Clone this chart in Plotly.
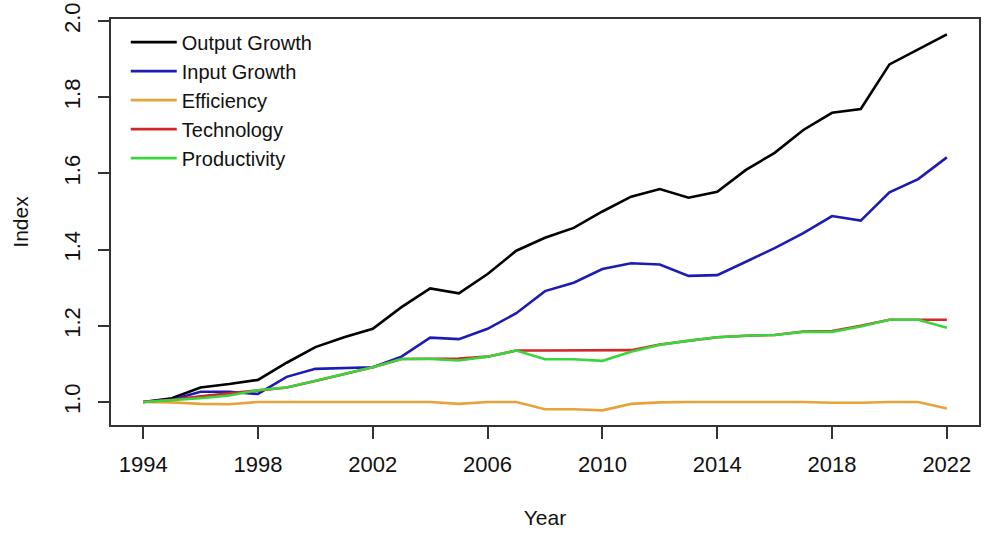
import plotly.graph_objects as go

years = list(range(1994, 2023))

output_growth = [1.000, 1.010, 1.038, 1.047, 1.058, 1.103, 1.144, 1.170, 1.192, 1.249,
                 1.298, 1.285, 1.336, 1.397, 1.431, 1.457, 1.500, 1.539, 1.559, 1.536,
                 1.552, 1.609, 1.654, 1.714, 1.759, 1.769, 1.886, 1.926, 1.965]
input_growth = [1.000, 1.006, 1.027, 1.027, 1.021, 1.066, 1.087, 1.089, 1.091, 1.119,
                1.169, 1.165, 1.192, 1.233, 1.291, 1.313, 1.349, 1.364, 1.361, 1.331,
                1.333, 1.368, 1.404, 1.443, 1.488, 1.476, 1.550, 1.585, 1.642]
efficiency = [1.000, 0.999, 0.995, 0.994, 1.000, 1.000, 1.000, 1.000, 1.000, 1.000,
              1.000, 0.995, 1.000, 1.000, 0.981, 0.981, 0.978, 0.995, 0.999, 1.000,
              1.000, 1.000, 1.000, 1.000, 0.998, 0.998, 1.000, 1.000, 0.983]
technology = [1.000, 1.006, 1.015, 1.023, 1.031, 1.038, 1.055, 1.073, 1.091, 1.113,
              1.113, 1.114, 1.119, 1.135, 1.135, 1.135, 1.135, 1.136, 1.151, 1.161,
              1.170, 1.174, 1.176, 1.185, 1.186, 1.200, 1.216, 1.216, 1.216]
productivity = [1.000, 1.005, 1.010, 1.017, 1.031, 1.038, 1.055, 1.073, 1.091, 1.113,
                1.113, 1.109, 1.119, 1.135, 1.112, 1.112, 1.108, 1.132, 1.150, 1.161,
                1.170, 1.174, 1.176, 1.184, 1.184, 1.198, 1.216, 1.216, 1.195]

x_ticks = [1994, 1998, 2002, 2006, 2010, 2014, 2018, 2022]
y_ticks = [1.0, 1.2, 1.4, 1.6, 1.8, 2.0]
y_tick_text = ["1.0", "1.2", "1.4", "1.6", "1.8", "2.0"]

series = [
    ("Output Growth", output_growth, "#000000"),
    ("Input Growth", input_growth, "#1c1cb4"),
    ("Efficiency", efficiency, "#E8A23A"),
    ("Technology", technology, "#D02828"),
    ("Productivity", productivity, "#3CD43C"),
]

fig = go.Figure()
for name, vals, col in series:
    fig.add_trace(go.Scatter(x=years, y=vals, mode="lines", name=name,
                             line=dict(color=col, width=2.6)))

font = "Liberation Sans, Arial, sans-serif"
fig.update_layout(
    width=1000, height=538,
    margin=dict(l=111, r=21, t=19, b=113),
    paper_bgcolor="white", plot_bgcolor="white",
    font=dict(family=font, size=21, color="#111111"),
    showlegend=True,
    legend=dict(x=0.017, y=0.991, xanchor="left", yanchor="top",
                bgcolor="rgba(0,0,0,0)", borderwidth=0,
                font=dict(size=20), itemwidth=46, tracegroupgap=0),
)
fig.update_xaxes(
    range=[1992.88, 2023.12], tickmode="array", tickvals=x_ticks,
    showgrid=False, zeroline=False, automargin=False,
    showline=True, linecolor="#333333", linewidth=1.5, mirror=True,
    ticks="outside", ticklen=12, tickwidth=1.5, tickcolor="#333333",
    ticklabelstandoff=7, tickfont=dict(size=22), ticklabeloverflow="allow",
    title=dict(text="Year", standoff=34, font=dict(size=21)),
)
fig.update_yaxes(
    range=[0.9396, 2.0052], tickmode="array", tickvals=y_ticks, ticktext=y_tick_text,
    tickangle=-90,
    showgrid=False, zeroline=False, automargin=False,
    showline=True, linecolor="#333333", linewidth=1.5, mirror=True,
    ticks="outside", ticklen=11, tickwidth=1.5, tickcolor="#333333",
    ticklabelstandoff=9, tickfont=dict(size=22), ticklabeloverflow="allow",
    title=dict(text="Index", standoff=26, font=dict(size=21)),
)

# remove the browser's default 8px body margin so the 1000x538 figure fills the window
fig.write_html("out.html", config={"displayModeBar": False},
               post_script="document.body.style.margin='0';")
